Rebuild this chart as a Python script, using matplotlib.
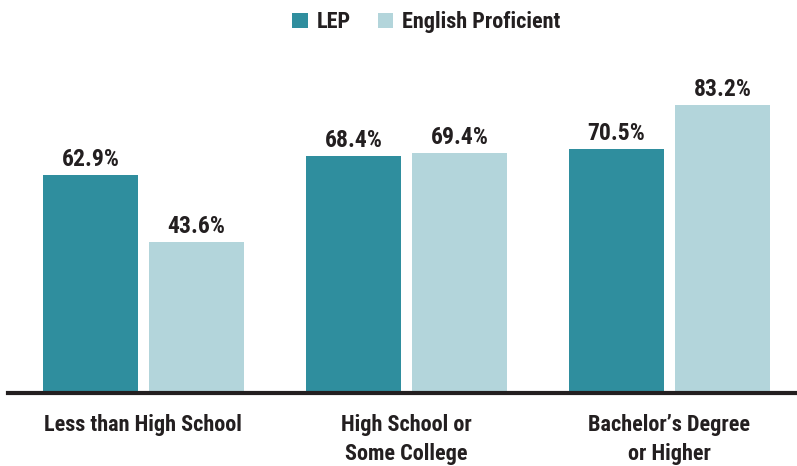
import numpy as np
import matplotlib
matplotlib.use("Agg")
import matplotlib.pyplot as plt
from matplotlib import font_manager

categories = ["Less than High School", "High School or\nSome College", "Bachelor\u2019s Degree\nor Higher"]
lep = [62.9, 68.4, 70.5]
proficient = [43.6, 69.4, 83.2]
series_names = ["LEP", "English Proficient"]

names = set(f.name for f in font_manager.fontManager.ttflist)
fam = "DejaVu Sans"
for cand in ["Liberation Sans Narrow", "DejaVu Sans Condensed", "Roboto Condensed"]:
    if cand in names:
        fam = cand
        break
plt.rcParams['font.family'] = [fam, 'DejaVu Sans']

c_lep = "#2f8e9e"
c_ep = "#b3d5db"
dark = "#231f20"

fig = plt.figure(figsize=(7.97, 4.66), dpi=100)
ax = fig.add_axes([0.01, 0.1567, 0.99, 0.7425])

x = np.arange(len(categories))
w = 0.361
off = 0.2015
b1 = ax.bar(x - off, lep, w, color=c_lep, label=series_names[0])
b2 = ax.bar(x + off, proficient, w, color=c_ep, label=series_names[1])

for bars, vals in [(b1, lep), (b2, proficient)]:
    for b, v in zip(bars, vals):
        ax.text(b.get_x() + b.get_width() / 2, v + 1.2, f"{v:.1f}%", ha="center", va="bottom",
                fontsize=17, fontweight="bold", color=dark)

ax.set_xlim(-0.515, 2.485)
ax.set_ylim(0, 100)
ax.set_yticks([])
ax.set_xticks(x)
ax.set_xticklabels(categories, fontsize=16, fontweight="bold", color=dark, linespacing=1.45)
ax.tick_params(axis="x", length=0, pad=15)
for s in ["top", "right", "left"]:
    ax.spines[s].set_visible(False)
ax.spines["bottom"].set_linewidth(3)
ax.spines["bottom"].set_color(dark)

leg = fig.legend(handles=[b1, b2], loc="center", bbox_to_anchor=(0.535, 0.952), ncol=2, frameon=False,
                 fontsize=16, handlelength=0.7, handleheight=0.7, handletextpad=0.4, columnspacing=1.2)
for t in leg.get_texts():
    t.set_fontweight("bold")
    t.set_color(dark)

fig.savefig("out.png", dpi=100)
